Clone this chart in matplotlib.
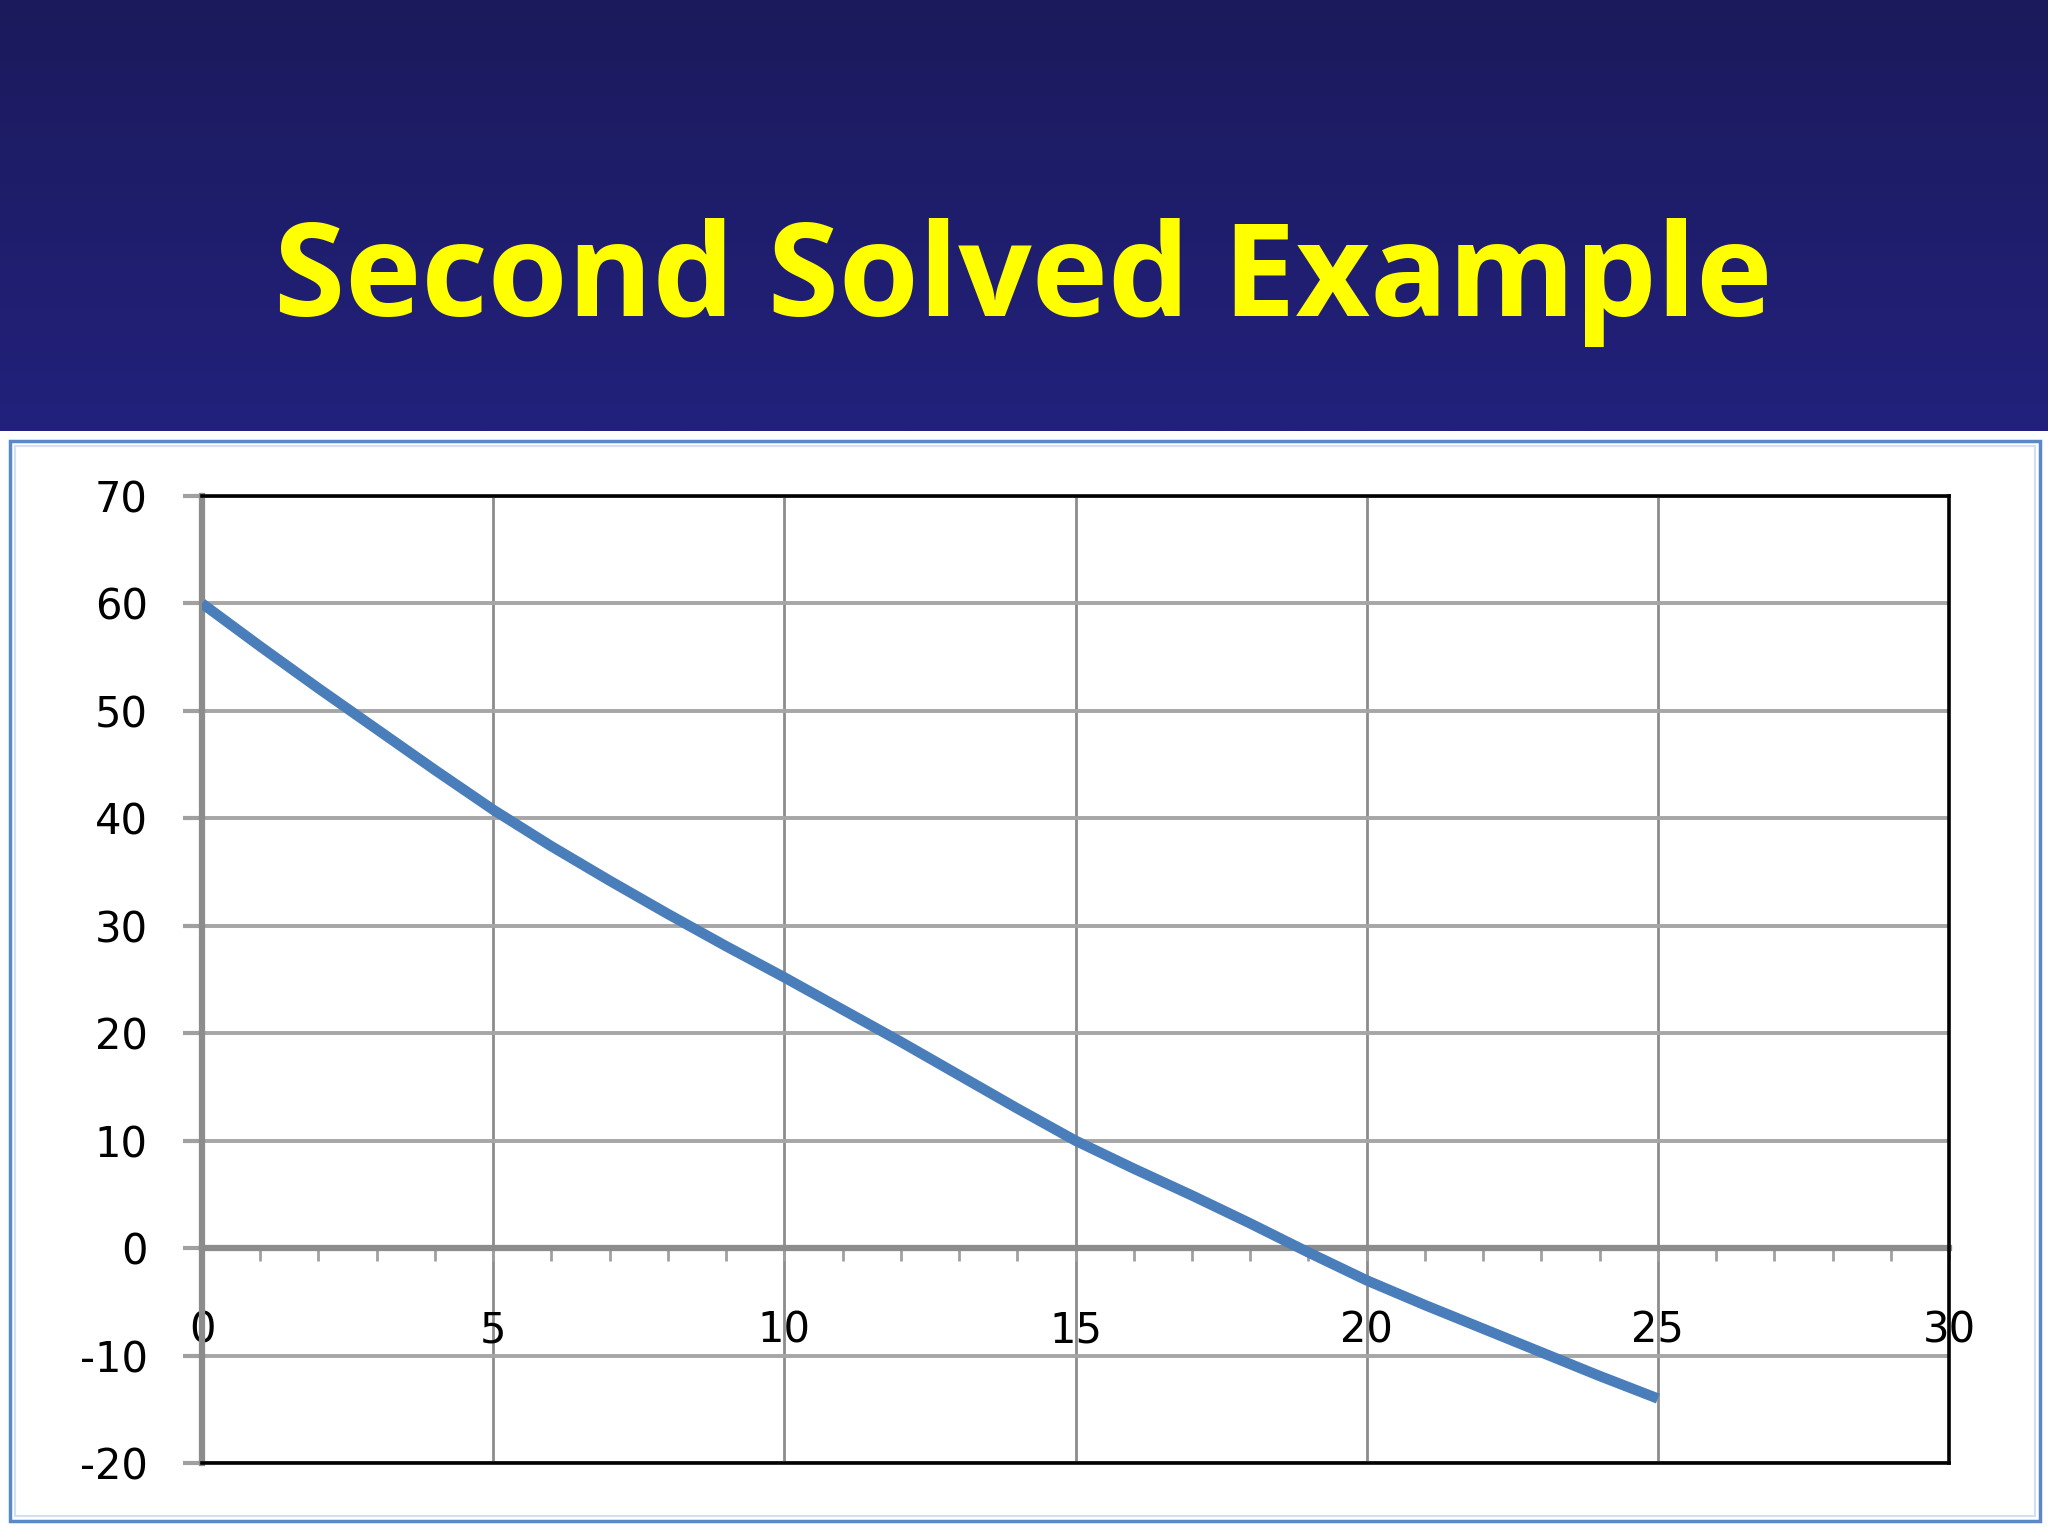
import numpy as np
import matplotlib
matplotlib.use("Agg")
import matplotlib.pyplot as plt
from matplotlib.colors import LinearSegmentedColormap
from matplotlib.patches import Rectangle
from matplotlib.ticker import MultipleLocator

plt.rcParams["axes.unicode_minus"] = False

# values
x_vals = list(range(0, 26))
y_vals = [60.0, 56.0, 52.1, 48.3, 44.5, 40.8, 37.4, 34.2, 31.1, 28.1,
          25.2, 22.2, 19.2, 16.1, 13.0, 10.0, 7.4, 4.9, 2.3, -0.4,
          -3.0, -5.3, -7.5, -9.7, -11.9, -14.0]
x_ticks = [0, 5, 10, 15, 20, 25, 30]
y_ticks = [-20, -10, 0, 10, 20, 30, 40, 50, 60, 70]
title = "Second Solved Example"

W, H = 2048, 1536
fig = plt.figure(figsize=(W / 100, H / 100), dpi=100, facecolor="white")

# dark blue header band with a slight gradient
hdr_h = 431 / H
hdr = fig.add_axes([0, 1 - hdr_h, 1, hdr_h])
cmap = LinearSegmentedColormap.from_list("hdr", ["#1b1a5c", "#22217c"])
hdr.imshow(np.linspace(0, 1, 256).reshape(-1, 1), aspect="auto", cmap=cmap,
           extent=[0, 1, 0, 1])
hdr.axis("off")
fig.text(0.4995, 1 - 316 / H, title, color="#ffff00", fontsize=93,
         fontweight="bold", family="Open Sans", ha="center", va="baseline")

# light blue frame around the chart
fig.patches.append(Rectangle((10 / W, 15 / H), 2030 / W, 1080 / H,
                             transform=fig.transFigure, fill=False,
                             ec="#5b88c6", lw=2.5))
fig.patches.append(Rectangle((15 / W, 20 / H), 2020 / W, 1070 / H,
                             transform=fig.transFigure, fill=False,
                             ec="#d3e0f2", lw=1.5))

pos = [202 / W, (H - 1463) / H, (1949 - 202) / W, (1463 - 496) / H]
ax = fig.add_axes(pos)
ax.set_xlim(0, 30)
ax.set_ylim(-20, 70)
ax.set_xticks(x_ticks)
ax.set_yticks(y_ticks)
ax.xaxis.set_minor_locator(MultipleLocator(1))

ax.set_axisbelow(True)
ax.grid(axis="y", color="#a6a6a6", lw=2.8)
ax.grid(axis="x", color="#8c8c8c", lw=2.0)

for s in ("top", "right"):
    ax.spines[s].set_visible(False)
ax.spines["left"].set_color("#8c8c8c")
ax.spines["left"].set_linewidth(4.5)
ax.spines["bottom"].set_position(("data", 0))
ax.spines["bottom"].set_color("#8c8c8c")
ax.spines["bottom"].set_linewidth(4.5)

ax.tick_params(axis="x", which="both", direction="out", length=9, width=2,
               color="#a0a0a0", pad=35, labelsize=30)
ax.tick_params(axis="y", direction="out", length=14, width=3,
               color="#a0a0a0", pad=25, labelsize=30)

ax.plot(x_vals, y_vals, color="#4a7ebb", lw=7.5, solid_capstyle="butt",
        solid_joinstyle="round", zorder=3)

# black box on top / right / bottom like the Excel plot area
frame = fig.add_axes(pos, facecolor="none")
frame.set_xticks([])
frame.set_yticks([])
frame.spines["left"].set_visible(False)
for s in ("top", "right", "bottom"):
    frame.spines[s].set_color("black")
    frame.spines[s].set_linewidth(2.6)

fig.savefig("out.png", dpi=100, facecolor="white")
